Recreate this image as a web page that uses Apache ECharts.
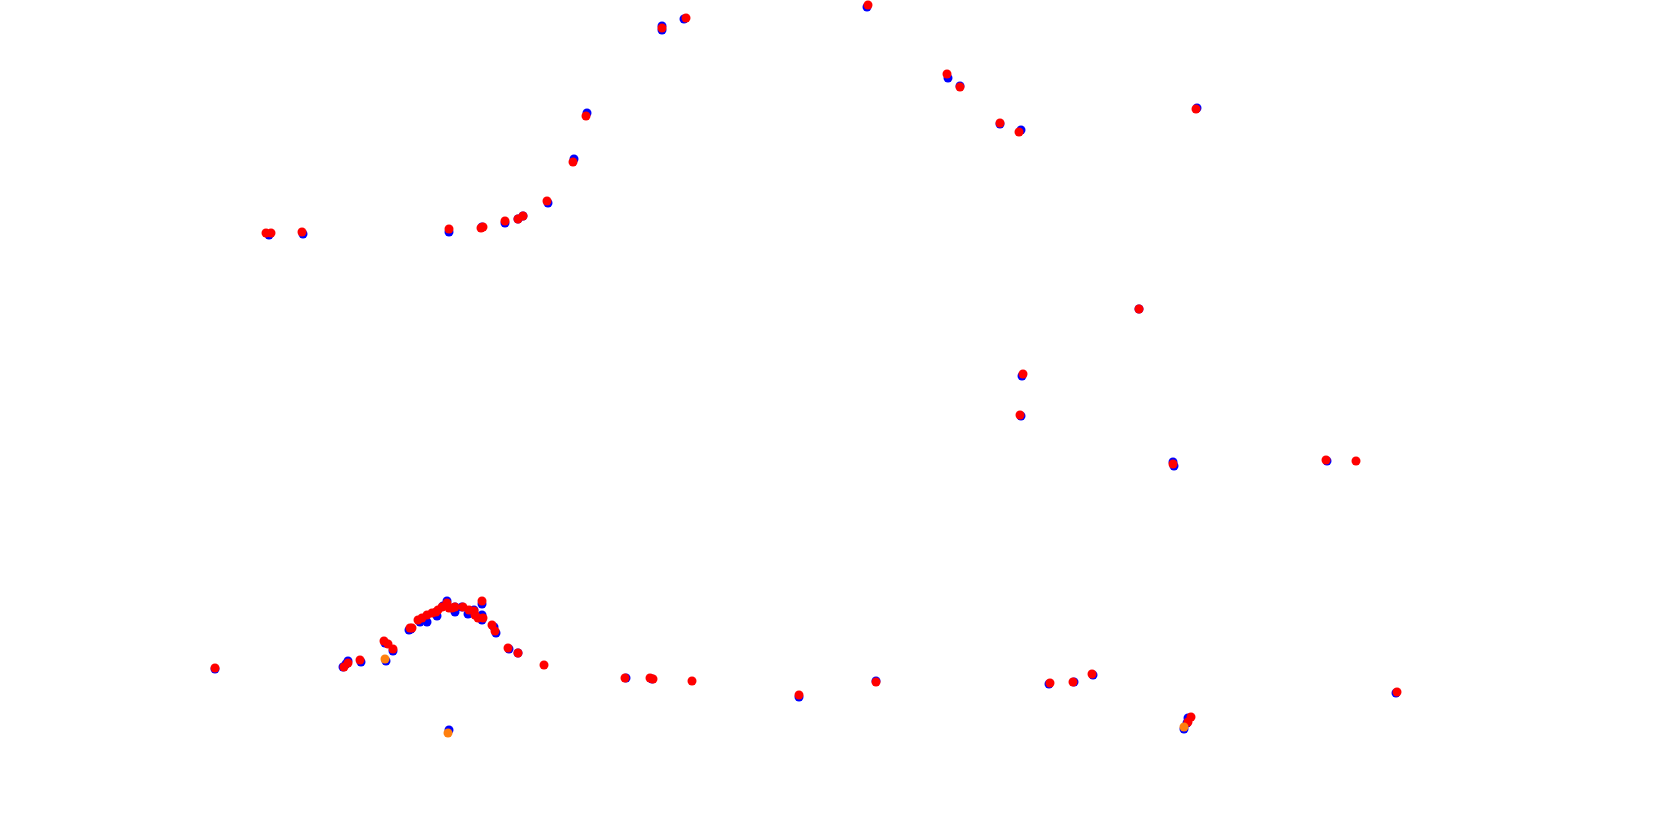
<!DOCTYPE html>
<html>
<head>
<meta charset="utf-8">
<script src="https://cdn.jsdelivr.net/npm/echarts@6/dist/echarts.min.js"></script>
<style>
html,body{margin:0;padding:0;background:#fff;}
#c{width:1680px;height:830px;}
</style>
</head>
<body>
<div id="c"></div>
<script>
const bluePoints = [[215,669],[343,667],[346,664],[348,661],[361,662],[386,661],[385,643],[393,651],[409,630],[411,629],[420,622],[427,622],[437,616],[443,606],[447,601],[455,607],[455,612],[462,607],[470,613],[468,614],[474,610],[482,604],[482,615],[482,620],[494,627],[496,633],[509,649],[518,653],[449,730],[626,678],[652,679],[799,697],[876,681],[1049,684],[1074,682],[1093,675],[1188,718],[1187,723],[1184,729],[1396,693],[1327,461],[1173,462],[1174,466],[1021,416],[1022,376],[1139,309],[1197,108],[1021,130],[1000,124],[960,86],[948,78],[867,7],[684,19],[662,26],[662,30],[587,113],[574,159],[548,203],[523,216],[518,219],[505,223],[482,227],[449,232],[303,234],[269,235]];
const redPoints = [[215,668],[344,667],[348,663],[360,660],[384,641],[388,644],[393,649],[410,628],[412,628],[418,620],[422,618],[427,615],[432,613],[436,612],[438,610],[442,607],[447,603],[449,608],[452,608],[455,607],[463,607],[469,610],[474,611],[475,615],[478,618],[483,618],[482,601],[492,625],[495,631],[508,648],[518,653],[544,665],[625,678],[650,678],[653,679],[692,681],[799,695],[876,682],[1050,683],[1073,682],[1092,674],[1191,717],[1188,722],[1397,692],[1326,460],[1356,461],[1173,464],[1020,415],[1023,374],[1139,309],[1196,109],[1019,132],[1000,123],[960,87],[947,74],[868,5],[686,18],[662,28],[586,116],[573,162],[547,201],[523,216],[518,219],[505,221],[483,227],[481,228],[449,229],[302,232],[266,233],[271,233]];
const orangePoints = [[385,659],[448,733],[1184,727]];

const chart = echarts.init(document.getElementById('c'));
chart.setOption({
  animation: false,
  backgroundColor: '#ffffff',
  grid: {left: 0, right: 0, top: 0, bottom: 0},
  xAxis: {type: 'value', min: 0, max: 1680, show: false},
  yAxis: {type: 'value', min: 0, max: 830, inverse: true, show: false},
  series: [
    {type: 'scatter', data: bluePoints, symbol: 'circle', symbolSize: 9, itemStyle: {color: '#0000ff', opacity: 1}},
    {type: 'scatter', data: redPoints, symbol: 'circle', symbolSize: 9, itemStyle: {color: '#ff0000', opacity: 1}},
    {type: 'scatter', data: orangePoints, symbol: 'circle', symbolSize: 9, itemStyle: {color: '#ff7f0e', opacity: 1}}
  ]
});
</script>
</body>
</html>
